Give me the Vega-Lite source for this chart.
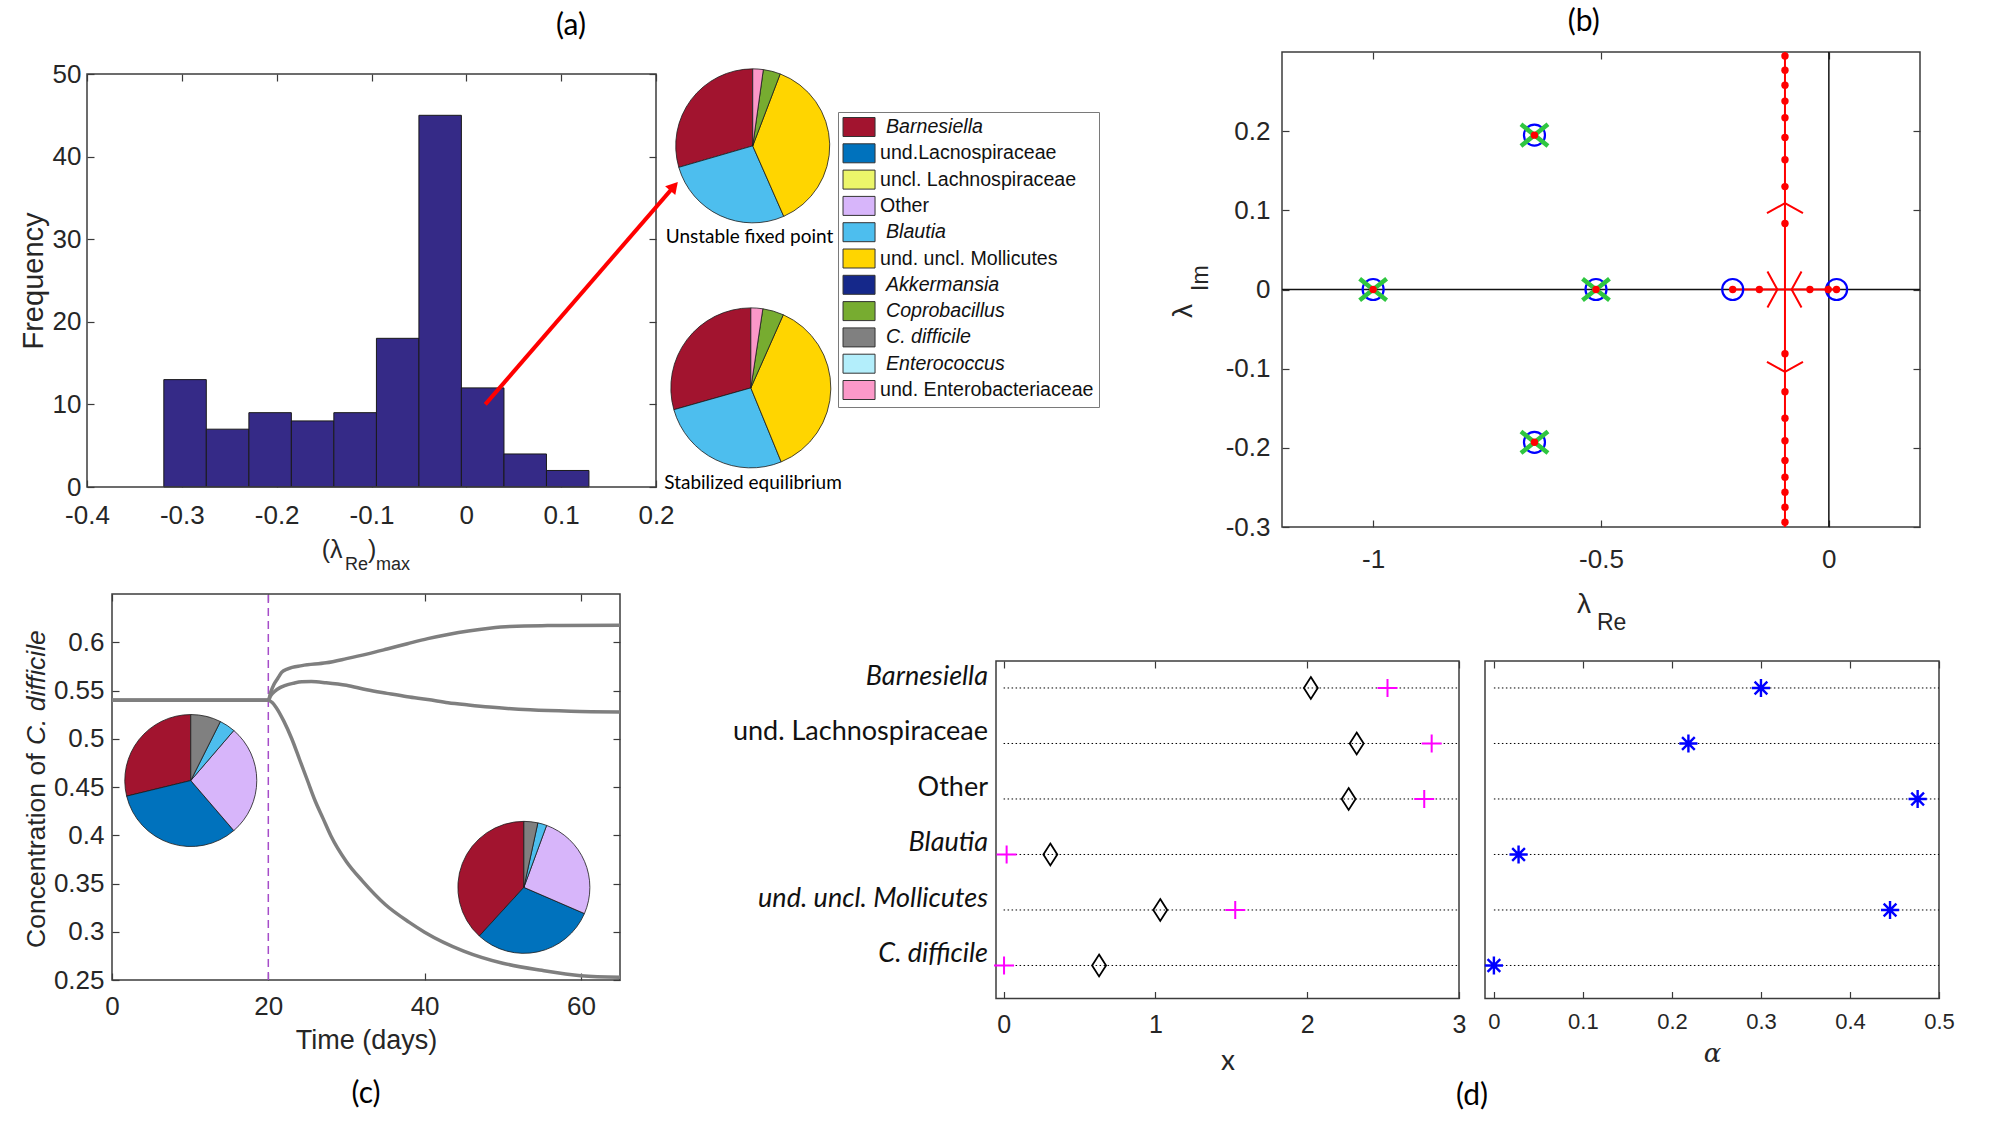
{
 "$schema": "https://vega.github.io/schema/vega-lite/v6.json",
 "width": 2000,
 "height": 1125,
 "autosize": "none",
 "padding": 0,
 "background": "#ffffff",
 "config": {
  "view": {"stroke": null},
  "font": "Liberation Sans",
  "axis": {
   "domain": false, "grid": false, "tickSize": -7, "tickColor": "#3a3a3a", "tickWidth": 1.2,
   "labelFont": "Liberation Sans", "labelFontSize": 26, "labelColor": "#262626",
   "labelFlush": false, "labelOverlap": false,
   "titleFont": "Liberation Sans", "titleFontSize": 29, "titleFontWeight": "normal", "titleColor": "#262626"
  },
  "legend": {
   "symbolType": "M-1.05,-1L2.32,-1L2.32,1L-1.05,1Z",
   "symbolSize": 361,
   "symbolStrokeColor": "#333333",
   "symbolStrokeWidth": 1,
   "symbolOpacity": 1,
   "labelFont": "Liberation Sans",
   "labelFontSize": 19.6,
   "labelColor": "#111111",
   "labelOffset": 17,
   "labelLimit": 400,
   "rowPadding": 2.3,
   "padding": 5,
   "strokeColor": "#7a7a7a",
   "fillColor": "#ffffff"
  }
 },
 "datasets": {
  "hist": [
   {"bin_start": -0.319, "bin_end": -0.2742, "count": 13},
   {"bin_start": -0.2742, "bin_end": -0.2293, "count": 7},
   {"bin_start": -0.2293, "bin_end": -0.1845, "count": 9},
   {"bin_start": -0.1845, "bin_end": -0.1397, "count": 8},
   {"bin_start": -0.1397, "bin_end": -0.0948, "count": 9},
   {"bin_start": -0.0948, "bin_end": -0.05, "count": 18},
   {"bin_start": -0.05, "bin_end": -0.0052, "count": 45},
   {"bin_start": -0.0052, "bin_end": 0.0397, "count": 12},
   {"bin_start": 0.0397, "bin_end": 0.0845, "count": 4},
   {"bin_start": 0.0845, "bin_end": 0.1293, "count": 2}
  ],
  "pies": [
   {"state": "unstable", "species": "Barnesiella", "k": 0, "share": 29.5},
   {"state": "unstable", "species": "Blautia", "k": 4, "share": 27.1},
   {"state": "unstable", "species": "und. uncl. Mollicutes", "k": 5, "share": 37.6},
   {"state": "unstable", "species": "Coprobacillus", "k": 7, "share": 3.6},
   {"state": "unstable", "species": "und. Enterobacteriaceae", "k": 10, "share": 2.2},
   {"state": "stabilized", "species": "Barnesiella", "k": 0, "share": 29.4},
   {"state": "stabilized", "species": "Blautia", "k": 4, "share": 26.8},
   {"state": "stabilized", "species": "und. uncl. Mollicutes", "k": 5, "share": 37.15},
   {"state": "stabilized", "species": "Coprobacillus", "k": 7, "share": 4.25},
   {"state": "stabilized", "species": "und. Enterobacteriaceae", "k": 10, "share": 2.4},
   {"state": "before", "species": "Barnesiella", "k": 0, "share": 28.8},
   {"state": "before", "species": "und.Lacnospiraceae", "k": 1, "share": 32.5},
   {"state": "before", "species": "Other", "k": 3, "share": 27.4},
   {"state": "before", "species": "Blautia", "k": 4, "share": 3.9},
   {"state": "before", "species": "C. difficile", "k": 8, "share": 7.4},
   {"state": "after", "species": "Barnesiella", "k": 0, "share": 38.2},
   {"state": "after", "species": "und.Lacnospiraceae", "k": 1, "share": 30.3},
   {"state": "after", "species": "Other", "k": 3, "share": 25.9},
   {"state": "after", "species": "Blautia", "k": 4, "share": 2.2},
   {"state": "after", "species": "C. difficile", "k": 8, "share": 3.4}
  ],
  "conc": [
   {"run": "rise", "t": 0, "c": 0.54}, {"run": "rise", "t": 20, "c": 0.54}, {"run": "rise", "t": 20.3, "c": 0.548}, {"run": "rise", "t": 20.7, "c": 0.556}, {"run": "rise", "t": 21.2, "c": 0.5625}, {"run": "rise", "t": 21.7, "c": 0.5687}, {"run": "rise", "t": 22.5, "c": 0.5725}, {"run": "rise", "t": 24.3, "c": 0.5758}, {"run": "rise", "t": 27.4, "c": 0.5787}, {"run": "rise", "t": 30, "c": 0.583}, {"run": "rise", "t": 32.6, "c": 0.5877}, {"run": "rise", "t": 35.2, "c": 0.593}, {"run": "rise", "t": 37.8, "c": 0.5985}, {"run": "rise", "t": 40.4, "c": 0.6038}, {"run": "rise", "t": 43, "c": 0.6081}, {"run": "rise", "t": 45.6, "c": 0.6117}, {"run": "rise", "t": 48.3, "c": 0.6146}, {"run": "rise", "t": 50.9, "c": 0.6164}, {"run": "rise", "t": 55, "c": 0.6172}, {"run": "rise", "t": 65, "c": 0.6175},
   {"run": "peak", "t": 0, "c": 0.54}, {"run": "peak", "t": 20, "c": 0.54}, {"run": "peak", "t": 20.3, "c": 0.5445}, {"run": "peak", "t": 20.8, "c": 0.549}, {"run": "peak", "t": 21.5, "c": 0.553}, {"run": "peak", "t": 22.2, "c": 0.5554}, {"run": "peak", "t": 23.2, "c": 0.5575}, {"run": "peak", "t": 24.3, "c": 0.559}, {"run": "peak", "t": 25.5, "c": 0.5592}, {"run": "peak", "t": 27.4, "c": 0.558}, {"run": "peak", "t": 30, "c": 0.5554}, {"run": "peak", "t": 32.6, "c": 0.5507}, {"run": "peak", "t": 35.2, "c": 0.547}, {"run": "peak", "t": 37.8, "c": 0.5435}, {"run": "peak", "t": 40.4, "c": 0.5407}, {"run": "peak", "t": 43, "c": 0.5374}, {"run": "peak", "t": 45.6, "c": 0.535}, {"run": "peak", "t": 48.3, "c": 0.5328}, {"run": "peak", "t": 53.5, "c": 0.53}, {"run": "peak", "t": 58.7, "c": 0.5285}, {"run": "peak", "t": 65, "c": 0.5278},
   {"run": "fall", "t": 0, "c": 0.54}, {"run": "fall", "t": 20, "c": 0.54}, {"run": "fall", "t": 20.5, "c": 0.5375}, {"run": "fall", "t": 21, "c": 0.5325}, {"run": "fall", "t": 22, "c": 0.518}, {"run": "fall", "t": 23, "c": 0.5}, {"run": "fall", "t": 24, "c": 0.4785}, {"run": "fall", "t": 25, "c": 0.457}, {"run": "fall", "t": 26, "c": 0.4355}, {"run": "fall", "t": 27, "c": 0.4175}, {"run": "fall", "t": 28, "c": 0.3995}, {"run": "fall", "t": 30, "c": 0.3726}, {"run": "fall", "t": 32, "c": 0.353}, {"run": "fall", "t": 35, "c": 0.328}, {"run": "fall", "t": 38, "c": 0.31}, {"run": "fall", "t": 40, "c": 0.2996}, {"run": "fall", "t": 45, "c": 0.28}, {"run": "fall", "t": 50, "c": 0.2674}, {"run": "fall", "t": 55, "c": 0.26}, {"run": "fall", "t": 60, "c": 0.2545}, {"run": "fall", "t": 65, "c": 0.2528}
  ],
  "fixed": [
   {"re": -1, "im": 0}, {"re": -0.511, "im": 0}, {"re": -0.646, "im": 0.195}, {"re": -0.646, "im": -0.193}
  ],
  "circles": [
   {"re": -1, "im": 0}, {"re": -0.511, "im": 0}, {"re": -0.646, "im": 0.195}, {"re": -0.646, "im": -0.193},
   {"re": -0.211, "im": 0}, {"re": 0.017, "im": 0}
  ],
  "dots": [
   {"re": -1, "im": 0}, {"re": -0.511, "im": 0}, {"re": -0.646, "im": 0.195}, {"re": -0.646, "im": -0.193},
   {"re": -0.0963, "im": 0.295}, {"re": -0.0963, "im": 0.277}, {"re": -0.0963, "im": 0.258}, {"re": -0.0963, "im": 0.238}, {"re": -0.0963, "im": 0.217}, {"re": -0.0963, "im": 0.192}, {"re": -0.0963, "im": 0.164}, {"re": -0.0963, "im": 0.13}, {"re": -0.0963, "im": 0.0833},
   {"re": -0.0963, "im": -0.081}, {"re": -0.0963, "im": -0.129}, {"re": -0.0963, "im": -0.1625}, {"re": -0.0963, "im": -0.191}, {"re": -0.0963, "im": -0.216}, {"re": -0.0963, "im": -0.237}, {"re": -0.0963, "im": -0.256}, {"re": -0.0963, "im": -0.275}, {"re": -0.0963, "im": -0.294},
   {"re": -0.211, "im": 0}, {"re": -0.1525, "im": 0}, {"re": -0.0416, "im": 0}, {"re": -0.0015, "im": 0}, {"re": 0.0168, "im": 0}
  ],
  "locus": [
   {"re": -0.0963, "im": -0.3, "re_end": -0.0963, "im_end": 0.3},
   {"re": -0.211, "im": 0, "re_end": 0.017, "im_end": 0}
  ],
  "turns": [
   {"re": -0.0963, "im": 0.109, "direction": "up"},
   {"re": -0.0963, "im": -0.104, "direction": "down"},
   {"re": -0.113, "im": 0, "direction": "right"},
   {"re": -0.0817, "im": 0, "direction": "left"}
  ],
  "factors": [
   {"species": "Barnesiella", "row": 6, "x_diamond": 2.024, "x_plus": 2.529, "alpha": 0.3},
   {"species": "und. Lachnospiraceae", "row": 5, "x_diamond": 2.326, "x_plus": 2.82, "alpha": 0.2185},
   {"species": "Other", "row": 4, "x_diamond": 2.273, "x_plus": 2.771, "alpha": 0.476},
   {"species": "Blautia", "row": 3, "x_diamond": 0.308, "x_plus": 0.02, "alpha": 0.0277},
   {"species": "und. uncl. Mollicutes", "row": 2, "x_diamond": 1.032, "x_plus": 1.526, "alpha": 0.445},
   {"species": "C. difficile", "row": 1, "x_diamond": 0.629, "x_plus": 0.003, "alpha": 0.0}
  ]
 },
 "layer": [
  {
   "resolve": {"axis": {"x": "independent", "y": "independent"}},
   "layer": [
    {
     "data": {"name": "hist"},
     "mark": {"type": "rect", "fill": "#352A87", "stroke": "#1a1a1a", "strokeWidth": 1},
     "encoding": {
      "x": {"field": "bin_start", "type": "quantitative",
       "scale": {"domain": [-0.4, 0.2], "range": [87, 656], "nice": false, "zero": false},
       "axis": {"orient": "bottom", "offset": -638, "values": [-0.4, -0.3, -0.2, -0.1, 0, 0.1, 0.2], "format": "~g", "labelExpr": "replace(datum.label, '−', '-')", "labelPadding": 22, "title": null}},
      "x2": {"field": "bin_end"},
      "y": {"field": "count", "type": "quantitative",
       "scale": {"domain": [0, 50], "range": [487, 74], "nice": false, "zero": false},
       "axis": {"orient": "left", "offset": -87, "values": [0, 10, 20, 30, 40, 50], "labelPadding": 13, "title": "Frequency", "titlePadding": 4}},
      "y2": {"datum": 0}
     }
    },
    {
     "data": {"values": [{}]},
     "mark": {"type": "rect", "filled": false, "stroke": "#3c3c3c", "strokeWidth": 1.5},
     "encoding": {
      "x": {"datum": -0.4, "axis": {"orient": "top", "offset": -74, "values": [-0.4, -0.3, -0.2, -0.1, 0, 0.1, 0.2], "labels": false, "title": null}},
      "x2": {"datum": 0.2},
      "y": {"datum": 0, "axis": {"orient": "right", "offset": -1344, "values": [0, 10, 20, 30, 40, 50], "labels": false, "title": null}},
      "y2": {"datum": 50}
     }
    },
    {
     "data": {"values": [{}]},
     "mark": {"type": "rule", "color": "#ff0000", "strokeWidth": 4},
     "encoding": {"x": {"datum": 0.02, "axis": null}, "y": {"datum": 10, "axis": null}, "x2": {"datum": 0.219}, "y2": {"datum": 36.4}}
    },
    {
     "data": {"values": [{}]},
     "mark": {"type": "point", "shape": "triangle-up", "angle": 41, "filled": true, "color": "#ff0000", "size": 180, "opacity": 1},
     "encoding": {"x": {"datum": 0.219, "axis": null}, "y": {"datum": 36.4, "axis": null}}
    },
    {
     "data": {"name": "pies"},
     "transform": [{"filter": "datum.state == 'unstable'"}],
     "mark": {"type": "arc", "outerRadius": 77, "stroke": "#1a1a1a", "strokeWidth": 0.8},
     "encoding": {
      "x": {"datum": 0.302, "axis": null}, "y": {"datum": 41.3, "axis": null},
      "theta": {"field": "share", "type": "quantitative", "stack": true, "scale": {"domain": [0, 100]}},
      "order": {"field": "k", "sort": "descending"},
      "color": {"field": "species", "type": "nominal",
       "scale": {"domain": ["Barnesiella", "und.Lacnospiraceae", "uncl. Lachnospiraceae", "Other", "Blautia", "und. uncl. Mollicutes", "Akkermansia", "Coprobacillus", "C. difficile", "Enterococcus", "und. Enterobacteriaceae"],
        "range": ["#A2142F", "#0072BD", "#ECF66A", "#D7B5FA", "#4DBEEE", "#FFD500", "#15288A", "#77AC30", "#808080", "#B3EEFB", "#FB98C8"]},
       "legend": {"orient": "none", "legendX": 838, "legendY": 112, "title": null,
        "labelExpr": "datum.label + '    '",
        "encode": {"labels": {"update": {"fontStyle": {"signal": "indexof(['Barnesiella','Blautia','Akkermansia','Coprobacillus','C. difficile','Enterococcus'], datum.label) >= 0 ? 'italic' : 'normal'"}, "dx": {"signal": "indexof(['Barnesiella','Blautia','Akkermansia','Coprobacillus','C. difficile','Enterococcus'], datum.label) >= 0 ? 6 : 0"}}}}}}
     }
    },
    {
     "data": {"name": "pies"},
     "transform": [{"filter": "datum.state == 'stabilized'"}],
     "mark": {"type": "arc", "outerRadius": 80, "stroke": "#1a1a1a", "strokeWidth": 0.8},
     "encoding": {
      "x": {"datum": 0.3, "axis": null}, "y": {"datum": 12.0, "axis": null},
      "theta": {"field": "share", "type": "quantitative", "stack": true, "scale": {"domain": [0, 100]}},
      "order": {"field": "k", "sort": "descending"},
      "color": {"field": "species", "type": "nominal"}
     }
    },
    {
     "data": {"values": [{"label": "Unstable fixed point"}]},
     "mark": {"type": "text", "font": "Lato", "fontSize": 19, "color": "#000000", "align": "center", "baseline": "middle"},
     "encoding": {"x": {"datum": 0.2986, "axis": null}, "y": {"datum": 30.3, "axis": null}, "text": {"field": "label"}}
    },
    {
     "data": {"values": [{"label": "Stabilized equilibrium"}]},
     "mark": {"type": "text", "font": "Lato", "fontSize": 19, "color": "#000000", "align": "center", "baseline": "middle"},
     "encoding": {"x": {"datum": 0.3023, "axis": null}, "y": {"datum": 0.48, "axis": null}, "text": {"field": "label"}}
    },
    {
     "data": {"values": [{"label": "(a)"}]},
     "mark": {"type": "text", "font": "Lato", "fontSize": 30, "color": "#000000", "align": "center", "baseline": "middle"},
     "encoding": {"x": {"datum": 0.1104, "axis": null}, "y": {"datum": 55.8, "axis": null}, "text": {"field": "label"}}
    },
    {
     "data": {"values": [{"label": "(λ"}]},
     "mark": {"type": "text", "fontSize": 25, "color": "#262626", "align": "left", "baseline": "alphabetic"},
     "encoding": {"x": {"datum": -0.1525, "axis": null}, "y": {"datum": -8.6, "axis": null}, "text": {"field": "label"}}
    },
    {
     "data": {"values": [{"label": "Re"}]},
     "mark": {"type": "text", "fontSize": 18, "color": "#262626", "align": "left", "baseline": "alphabetic"},
     "encoding": {"x": {"datum": -0.1279, "axis": null}, "y": {"datum": -10.1, "axis": null}, "text": {"field": "label"}}
    },
    {
     "data": {"values": [{"label": ")"}]},
     "mark": {"type": "text", "fontSize": 25, "color": "#262626", "align": "left", "baseline": "alphabetic"},
     "encoding": {"x": {"datum": -0.1037, "axis": null}, "y": {"datum": -8.6, "axis": null}, "text": {"field": "label"}}
    },
    {
     "data": {"values": [{"label": "max"}]},
     "mark": {"type": "text", "fontSize": 18, "color": "#262626", "align": "left", "baseline": "alphabetic"},
     "encoding": {"x": {"datum": -0.0952, "axis": null}, "y": {"datum": -10.1, "axis": null}, "text": {"field": "label"}}
    }
   ]
  },
  {
   "resolve": {"axis": {"x": "independent", "y": "independent"}},
   "layer": [
    {
     "data": {"values": [{}]},
     "mark": {"type": "rect", "filled": false, "stroke": "#3c3c3c", "strokeWidth": 1.5},
     "encoding": {
      "x": {"datum": -1.2, "axis": {"orient": "top", "offset": -52, "values": [-1, -0.5, 0], "labels": false, "title": null}},
      "x2": {"datum": 0.2},
      "y": {"datum": -0.3, "axis": {"orient": "right", "offset": -80, "values": [-0.3, -0.2, -0.1, 0, 0.1, 0.2], "labels": false, "title": null}},
      "y2": {"datum": 0.3}
     }
    },
    {
     "data": {"values": [{}]},
     "mark": {"type": "rule", "color": "#111111", "strokeWidth": 1.5},
     "encoding": {"x": {"datum": -1.2, "axis": null}, "x2": {"datum": 0.2}, "y": {"datum": 0, "axis": null}}
    },
    {
     "data": {"values": [{}]},
     "mark": {"type": "rule", "color": "#111111", "strokeWidth": 1.5},
     "encoding": {"x": {"datum": 0, "axis": null}, "y": {"datum": -0.3, "axis": null}, "y2": {"datum": 0.3}}
    },
    {
     "data": {"name": "locus"},
     "mark": {"type": "rule", "color": "#ff0000", "strokeWidth": 2},
     "encoding": {"x": {"field": "re", "type": "quantitative", "axis": null}, "y": {"field": "im", "type": "quantitative", "axis": null}, "x2": {"field": "re_end"}, "y2": {"field": "im_end"}}
    },
    {
     "data": {"name": "turns"},
     "mark": {"type": "point", "filled": false, "strokeWidth": 2, "color": "#ff0000", "size": 1296, "opacity": 1},
     "encoding": {
      "x": {"field": "re", "type": "quantitative", "axis": null},
      "y": {"field": "im", "type": "quantitative", "axis": null},
      "shape": {"field": "direction", "type": "nominal", "legend": null,
       "scale": {"domain": ["up", "down", "right", "left"], "range": ["M-1,0.55L0,0L1,0.55", "M-1,-0.55L0,0L1,-0.55", "M-0.55,-1L0,0L-0.55,1", "M0.55,-1L0,0L0.55,1"]}}
     }
    },
    {
     "data": {"name": "circles"},
     "mark": {"type": "point", "shape": "circle", "filled": false, "color": "#0000ff", "strokeWidth": 2.2, "size": 441, "opacity": 1},
     "encoding": {"x": {"field": "re", "type": "quantitative", "axis": null}, "y": {"field": "im", "type": "quantitative", "axis": null}}
    },
    {
     "data": {"name": "fixed"},
     "mark": {"type": "point", "shape": "M-1,-0.8L1,0.8M-1,0.8L1,-0.8", "filled": false, "color": "#2fc640", "strokeWidth": 4.5, "size": 729, "opacity": 1},
     "encoding": {"x": {"field": "re", "type": "quantitative", "axis": null}, "y": {"field": "im", "type": "quantitative", "axis": null}}
    },
    {
     "data": {"name": "dots"},
     "mark": {"type": "point", "shape": "circle", "filled": true, "color": "#ff0000", "size": 55, "opacity": 1},
     "encoding": {
      "x": {"field": "re", "type": "quantitative",
       "scale": {"domain": [-1.2, 0.2], "range": [1282, 1920], "nice": false, "zero": false},
       "axis": {"orient": "bottom", "offset": -598, "values": [-1, -0.5, 0], "format": "~g", "labelExpr": "replace(datum.label, '−', '-')", "labelPadding": 26, "title": null}},
      "y": {"field": "im", "type": "quantitative",
       "scale": {"domain": [-0.3, 0.3], "range": [527, 52], "nice": false, "zero": false},
       "axis": {"orient": "left", "offset": -1282, "values": [-0.3, -0.2, -0.1, 0, 0.1, 0.2], "format": "~g", "labelExpr": "replace(datum.label, '−', '-')", "labelPadding": 19, "title": null}}
     }
    },
    {
     "data": {"values": [{"label": "(b)"}]},
     "mark": {"type": "text", "font": "Lato", "fontSize": 30, "color": "#000000", "align": "center", "baseline": "middle"},
     "encoding": {"x": {"datum": -0.538, "axis": null}, "y": {"datum": 0.3385, "axis": null}, "text": {"field": "label"}}
    },
    {
     "data": {"values": [{"label": "λ"}]},
     "mark": {"type": "text", "fontSize": 28, "color": "#262626", "align": "left", "baseline": "alphabetic"},
     "encoding": {"x": {"datum": -0.5528, "axis": null}, "y": {"datum": -0.4086, "axis": null}, "text": {"field": "label"}}
    },
    {
     "data": {"values": [{"label": "Re"}]},
     "mark": {"type": "text", "fontSize": 23, "color": "#262626", "align": "left", "baseline": "alphabetic"},
     "encoding": {"x": {"datum": -0.5089, "axis": null}, "y": {"datum": -0.4301, "axis": null}, "text": {"field": "label"}}
    },
    {
     "data": {"values": [{"label": "λ"}]},
     "mark": {"type": "text", "fontSize": 28, "color": "#262626", "align": "left", "baseline": "alphabetic", "angle": 270},
     "encoding": {"x": {"datum": -1.3976, "axis": null}, "y": {"datum": -0.036, "axis": null}, "text": {"field": "label"}}
    },
    {
     "data": {"values": [{"label": "Im"}]},
     "mark": {"type": "text", "fontSize": 23, "color": "#262626", "align": "left", "baseline": "alphabetic", "angle": 270},
     "encoding": {"x": {"datum": -1.3625, "axis": null}, "y": {"datum": -0.0019, "axis": null}, "text": {"field": "label"}}
    }
   ]
  },
  {
   "resolve": {"axis": {"x": "independent", "y": "independent"}},
   "layer": [
    {
     "data": {"values": [{}]},
     "mark": {"type": "rect", "filled": false, "stroke": "#3c3c3c", "strokeWidth": 1.5},
     "encoding": {
      "x": {"datum": 0, "axis": {"orient": "top", "offset": -594, "values": [0, 20, 40, 60], "labels": false, "title": null}},
      "x2": {"datum": 65},
      "y": {"datum": 0.25, "axis": {"orient": "right", "offset": -1380, "values": [0.25, 0.3, 0.35, 0.4, 0.45, 0.5, 0.55, 0.6], "labels": false, "title": null}},
      "y2": {"datum": 0.65}
     }
    },
    {
     "data": {"values": [{}]},
     "mark": {"type": "rule", "color": "#a64dc9", "strokeWidth": 1.5, "strokeDash": [8, 5]},
     "encoding": {"x": {"datum": 20, "axis": null}, "y": {"datum": 0.25, "axis": null}, "y2": {"datum": 0.65}}
    },
    {
     "data": {"name": "conc"},
     "mark": {"type": "line", "color": "#7f7f7f", "strokeWidth": 3.5, "interpolate": "monotone"},
     "encoding": {
      "x": {"field": "t", "type": "quantitative",
       "scale": {"domain": [0, 65], "range": [112, 620], "nice": false, "zero": false},
       "axis": {"orient": "bottom", "offset": -145, "values": [0, 20, 40, 60], "labelPadding": 20, "title": "Time (days)", "titlePadding": 8, "titleFontSize": 27}},
      "y": {"field": "c", "type": "quantitative",
       "scale": {"domain": [0.25, 0.65], "range": [980, 594], "nice": false, "zero": false},
       "axis": {"orient": "left", "offset": -112, "values": [0.25, 0.3, 0.35, 0.4, 0.45, 0.5, 0.55, 0.6], "format": "~g", "labelPadding": 15, "title": null}},
      "detail": {"field": "run", "type": "nominal"}
     }
    },
    {
     "data": {"name": "pies"},
     "transform": [{"filter": "datum.state == 'before'"}],
     "mark": {"type": "arc", "outerRadius": 66, "stroke": "#1a1a1a", "strokeWidth": 0.8},
     "encoding": {
      "x": {"datum": 10.08, "axis": null}, "y": {"datum": 0.4567, "axis": null},
      "theta": {"field": "share", "type": "quantitative", "stack": true, "scale": {"domain": [0, 100]}},
      "order": {"field": "k", "sort": "descending"},
      "color": {"field": "species", "type": "nominal"}
     }
    },
    {
     "data": {"name": "pies"},
     "transform": [{"filter": "datum.state == 'after'"}],
     "mark": {"type": "arc", "outerRadius": 66, "stroke": "#1a1a1a", "strokeWidth": 0.8},
     "encoding": {
      "x": {"datum": 52.7, "axis": null}, "y": {"datum": 0.346, "axis": null},
      "theta": {"field": "share", "type": "quantitative", "stack": true, "scale": {"domain": [0, 100]}},
      "order": {"field": "k", "sort": "descending"},
      "color": {"field": "species", "type": "nominal"}
     }
    },
    {
     "data": {"values": [{"label": "Concentration of "}]},
     "mark": {"type": "text", "fontSize": 26.5, "color": "#262626", "align": "left", "baseline": "alphabetic", "angle": 270},
     "encoding": {"x": {"datum": -8.57, "axis": null}, "y": {"datum": 0.2832, "axis": null}, "text": {"field": "label"}}
    },
    {
     "data": {"values": [{"label": "C. difficile"}]},
     "mark": {"type": "text", "fontSize": 26.5, "fontStyle": "italic", "color": "#262626", "align": "left", "baseline": "alphabetic", "angle": 270},
     "encoding": {"x": {"datum": -8.57, "axis": null}, "y": {"datum": 0.4935, "axis": null}, "text": {"field": "label"}}
    },
    {
     "data": {"values": [{"label": "(c)"}]},
     "mark": {"type": "text", "font": "Lato", "fontSize": 30, "color": "#000000", "align": "center", "baseline": "middle"},
     "encoding": {"x": {"datum": 32.5, "axis": null}, "y": {"datum": 0.132, "axis": null}, "text": {"field": "label"}}
    }
   ]
  },
  {
   "resolve": {"axis": {"x": "independent", "y": "independent"}},
   "layer": [
    {
     "data": {"values": [{}]},
     "mark": {"type": "rect", "filled": false, "stroke": "#3c3c3c", "strokeWidth": 1.5},
     "encoding": {
      "x": {"datum": -0.05, "axis": {"orient": "top", "offset": -661, "values": [0, 1, 2, 3], "labels": false, "title": null}},
      "x2": {"datum": 3},
      "y": {"datum": 0.405, "axis": null},
      "y2": {"datum": 6.486}
     }
    },
    {
     "data": {"name": "factors"},
     "mark": {"type": "rule", "color": "#000000", "strokeWidth": 1, "strokeDash": [1.5, 2.5]},
     "encoding": {"x": {"datum": 0, "axis": null}, "x2": {"datum": 3}, "y": {"field": "row", "type": "quantitative", "axis": null}}
    },
    {
     "data": {"name": "factors"},
     "mark": {"type": "point", "shape": "M0,-1L0.64,0L0,1L-0.64,0Z", "filled": false, "color": "#000000", "strokeWidth": 1.8, "size": 475, "opacity": 1},
     "encoding": {
      "x": {"field": "x_diamond", "type": "quantitative",
       "scale": {"domain": [-0.05, 3], "range": [996, 1459], "nice": false, "zero": false},
       "axis": {"orient": "bottom", "offset": -126.5, "values": [0, 1, 2, 3], "labelFont": "Liberation Sans Narrow, Liberation Sans", "labelFontSize": 25, "labelPadding": 20.5, "title": "x", "titleFont": "Lato", "titleFontSize": 28, "titlePadding": 10}},
      "y": {"field": "row", "type": "quantitative",
       "scale": {"domain": [0.405, 6.486], "range": [998.5, 661], "nice": false, "zero": false},
       "axis": null}
     }
    },
    {
     "data": {"name": "factors"},
     "mark": {"type": "point", "shape": "M-1,0L1,0M0,-0.9L0,0.9", "filled": false, "color": "#ff00ff", "strokeWidth": 2, "size": 400, "opacity": 1},
     "encoding": {"x": {"field": "x_plus", "type": "quantitative", "axis": null}, "y": {"field": "row", "type": "quantitative", "axis": null}}
    },
    {
     "data": {"name": "factors"},
     "transform": [{"filter": "datum.species != 'Other' && datum.species != 'und. Lachnospiraceae'"}],
     "mark": {"type": "text", "font": "Lato", "fontSize": 27, "fontStyle": "italic", "color": "#111111", "align": "right", "baseline": "middle", "dx": -8, "dy": -11},
     "encoding": {"x": {"datum": -0.05, "axis": null}, "y": {"field": "row", "type": "quantitative", "axis": null}, "text": {"field": "species"}}
    },
    {
     "data": {"name": "factors"},
     "transform": [{"filter": "datum.species == 'Other' || datum.species == 'und. Lachnospiraceae'"}],
     "mark": {"type": "text", "font": "Lato", "fontSize": 27, "color": "#111111", "align": "right", "baseline": "middle", "dx": -8, "dy": -11},
     "encoding": {"x": {"datum": -0.05, "axis": null}, "y": {"field": "row", "type": "quantitative", "axis": null}, "text": {"field": "species"}}
    },
    {
     "data": {"values": [{"label": "(d)"}]},
     "mark": {"type": "text", "font": "Lato", "fontSize": 30, "color": "#000000", "align": "center", "baseline": "middle"},
     "encoding": {"x": {"datum": 3.086, "axis": null}, "y": {"datum": -1.352, "axis": null}, "text": {"field": "label"}}
    }
   ]
  },
  {
   "resolve": {"axis": {"x": "independent", "y": "independent"}},
   "layer": [
    {
     "data": {"values": [{}]},
     "mark": {"type": "rect", "filled": false, "stroke": "#3c3c3c", "strokeWidth": 1.5},
     "encoding": {
      "x": {"datum": -0.01, "axis": {"orient": "top", "offset": -661, "values": [0, 0.1, 0.2, 0.3, 0.4, 0.5], "labels": false, "title": null}},
      "x2": {"datum": 0.5},
      "y": {"datum": 0.405, "axis": null},
      "y2": {"datum": 6.486}
     }
    },
    {
     "data": {"name": "factors"},
     "mark": {"type": "rule", "color": "#000000", "strokeWidth": 1, "strokeDash": [1.5, 2.5]},
     "encoding": {"x": {"datum": 0, "axis": null}, "x2": {"datum": 0.5}, "y": {"field": "row", "type": "quantitative", "axis": null}}
    },
    {
     "data": {"name": "factors"},
     "mark": {"type": "point", "shape": "M-1,0L1,0M0,-1L0,1M-0.7,-0.7L0.7,0.7M-0.7,0.7L0.7,-0.7", "filled": false, "color": "#0000ff", "strokeWidth": 2.4, "size": 330, "opacity": 1},
     "encoding": {
      "x": {"field": "alpha", "type": "quantitative",
       "scale": {"domain": [-0.01, 0.5], "range": [1485, 1939], "nice": false, "zero": false},
       "axis": {"orient": "bottom", "offset": -126.5, "values": [0, 0.1, 0.2, 0.3, 0.4, 0.5], "format": "~g", "labelFontSize": 22, "labelPadding": 20, "title": "α", "titleFont": "DejaVu Serif", "titleFontStyle": "italic", "titleFontSize": 26, "titlePadding": 8}},
      "y": {"field": "row", "type": "quantitative",
       "scale": {"domain": [0.405, 6.486], "range": [998.5, 661], "nice": false, "zero": false},
       "axis": null}
     }
    }
   ]
  }
 ],
 "resolve": {"scale": {"x": "independent", "y": "independent"}}
}
